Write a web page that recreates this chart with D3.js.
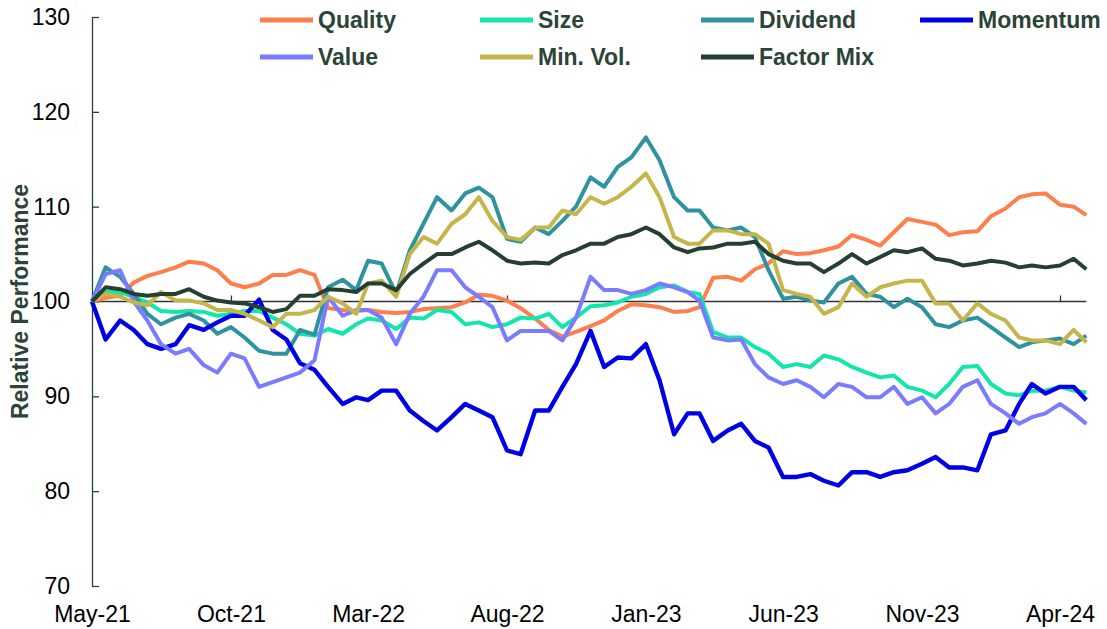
<!DOCTYPE html>
<html>
<head>
<meta charset="utf-8">
<script src="https://cdn.jsdelivr.net/npm/d3@7"></script>
<style>
  body { margin: 0; background: #fff; }
  svg text { font-family: Arial, "Liberation Sans", sans-serif; }
</style>
</head>
<body>
<div id="chartDiv"></div>
<script>
// semi-monthly readings, 1 May 2021 .. 30 Apr 2024
const seriesNames = ['Quality', 'Size', 'Dividend', 'Momentum', 'Value', 'Min. Vol.', 'Factor Mix'];
const seriesColors = ['#ff7f4c', '#13e6ad', '#2e939f', '#0000e6', '#7b7bff', '#c4b64b', '#253f31'];

const quality = [100.0, 100.4, 100.6, 102.0, 102.7, 103.1, 103.6, 104.2, 104.0, 103.3, 101.9, 101.5, 101.9, 102.8, 102.8, 103.3, 102.8, 99.3, 99.1, 99.0,
  99.1, 98.9, 98.8, 98.9, 99.2, 99.3, 99.4, 99.9, 100.7, 100.6, 100.1, 99.3, 98.2, 97.0, 96.3, 96.8, 97.4, 98.0, 99.0, 99.7,
  99.6, 99.4, 98.9, 99.0, 99.4, 102.5, 102.6, 102.2, 103.4, 104.0, 105.3, 105.0, 105.1, 105.4, 105.8, 107.0, 106.5, 105.9, 107.3, 108.7,
  108.4, 108.1, 107.0, 107.3, 107.4, 109.0, 109.8, 111.0, 111.3, 111.4, 110.2, 110.0, 109.1];
const size = [100.0, 101.0, 101.0, 100.5, 99.9, 99.0, 98.9, 99.0, 98.9, 98.5, 98.7, 99.0, 99.0, 98.3, 97.6, 96.6, 96.4, 97.1, 96.6, 97.6,
  98.2, 98.0, 97.1, 98.3, 98.2, 99.1, 98.9, 97.6, 97.8, 97.3, 97.6, 98.3, 98.2, 98.7, 97.3, 98.3, 99.5, 99.6, 99.9, 100.5,
  100.8, 101.5, 101.7, 101.0, 100.8, 96.8, 96.2, 96.2, 95.2, 94.5, 93.1, 93.4, 93.1, 94.3, 93.9, 93.1, 92.5, 92.0, 92.2, 91.0,
  90.6, 89.9, 91.3, 93.1, 93.2, 91.3, 90.3, 90.1, 90.6, 90.6, 91.0, 90.6, 90.4];
const dividend = [100.0, 103.6, 102.6, 100.8, 98.7, 97.6, 98.3, 98.7, 98.0, 96.6, 97.3, 96.2, 94.8, 94.5, 94.5, 97.0, 96.5, 101.5, 102.3, 101.2,
  104.3, 104.0, 100.8, 105.4, 108.2, 111.0, 109.6, 111.4, 112.0, 111.0, 106.6, 106.3, 107.8, 107.1, 108.5, 110.0, 113.1, 112.1, 114.2, 115.2,
  117.3, 114.9, 111.0, 109.6, 109.6, 107.8, 107.5, 107.8, 106.8, 103.3, 100.3, 100.5, 100.1, 99.9, 101.9, 102.6, 100.8, 100.5, 99.4, 100.3,
  99.4, 97.6, 97.3, 98.0, 98.3, 97.3, 96.2, 95.2, 95.7, 95.9, 96.1, 95.5, 96.4];
const momentum = [100.0, 96.0, 98.0, 97.0, 95.5, 95.0, 95.5, 97.5, 97.0, 97.8, 98.5, 98.5, 100.2, 97.0, 96.0, 93.5, 92.8, 91.0, 89.2, 89.9,
  89.6, 90.6, 90.6, 88.5, 87.4, 86.4, 87.8, 89.2, 88.5, 87.8, 84.3, 83.9, 88.5, 88.5, 91.0, 93.4, 96.9, 93.1, 94.1, 94.0,
  95.5, 91.7, 86.0, 88.2, 88.2, 85.3, 86.4, 87.1, 85.3, 84.6, 81.5, 81.5, 81.8, 81.1, 80.6, 82.0, 82.0, 81.5, 82.0, 82.2,
  82.9, 83.6, 82.5, 82.5, 82.2, 86.0, 86.4, 89.2, 91.3, 90.3, 91.0, 91.0, 89.6];
const value = [100.0, 102.9, 103.3, 100.0, 98.0, 95.5, 94.5, 95.0, 93.3, 92.5, 94.5, 94.0, 91.0, 91.5, 92.0, 92.5, 93.8, 100.5, 98.5, 99.1,
  99.1, 98.3, 95.5, 98.7, 100.5, 103.3, 103.3, 101.5, 100.5, 99.4, 95.9, 96.9, 96.9, 96.9, 95.9, 98.3, 102.6, 101.2, 101.2, 100.8,
  101.2, 101.9, 101.5, 101.0, 100.1, 96.2, 95.9, 96.0, 93.4, 92.0, 91.3, 91.7, 91.0, 89.9, 91.3, 91.0, 89.9, 89.9, 91.0, 89.2,
  89.9, 88.2, 89.2, 91.0, 91.7, 89.2, 88.2, 87.1, 87.8, 88.2, 89.2, 88.2, 87.1];
const minVol = [100.0, 100.8, 100.5, 99.9, 99.6, 101.0, 100.1, 100.1, 99.8, 99.1, 99.1, 98.7, 98.0, 97.3, 98.7, 98.7, 99.1, 100.5, 99.8, 98.7,
  101.9, 102.2, 100.5, 105.0, 106.8, 106.1, 108.2, 109.2, 111.0, 108.5, 106.8, 106.5, 107.8, 107.8, 109.6, 109.2, 111.0, 110.3, 111.0, 112.1,
  113.5, 111.0, 106.8, 106.1, 106.1, 107.5, 107.5, 107.1, 107.1, 106.1, 101.2, 100.8, 100.5, 98.7, 99.4, 101.9, 100.5, 101.5, 101.9, 102.2,
  102.2, 99.8, 99.8, 98.0, 99.8, 98.7, 98.0, 96.2, 95.9, 95.9, 95.5, 97.0, 95.7];
const factorMix = [100.0, 101.5, 101.3, 100.8, 100.6, 100.8, 100.8, 101.3, 100.5, 100.1, 99.9, 99.8, 99.4, 98.9, 99.2, 100.6, 100.6, 101.3, 101.2, 101.0,
  101.9, 101.9, 101.2, 102.9, 104.0, 105.0, 105.0, 105.7, 106.3, 105.4, 104.3, 104.0, 104.1, 104.0, 104.9, 105.4, 106.1, 106.1, 106.8, 107.1,
  107.8, 107.1, 105.7, 105.2, 105.6, 105.7, 106.1, 106.1, 106.3, 105.0, 104.3, 104.0, 104.0, 103.1, 104.0, 105.0, 104.0, 104.7, 105.4, 105.2,
  105.6, 104.5, 104.3, 103.8, 104.0, 104.3, 104.1, 103.6, 103.8, 103.6, 103.8, 104.5, 103.4];

const labelDates = ['2021-05-01', '2021-10-01', '2022-03-01', '2022-08-01', '2023-01-01', '2023-06-01', '2023-11-01', '2024-04-01'];
const markDates = ['2021-10-01', '2022-08-01', '2023-06-01', '2024-04-01'];
const yTicks = [70, 80, 90, 100, 110, 120, 130];

class FactorChart {
  constructor() {
    this.svgWidth = 1107;
    this.svgHeight = 629;
    this.parse = d3.timeParse('%Y-%m-%d');
    this.dates = quality.map((d, i) => i === quality.length - 1
      ? new Date(2024, 3, 30)
      : new Date(2021, 4 + Math.floor(i / 2), i % 2 ? 16 : 1));
    this.series = [quality, size, dividend, momentum, value, minVol, factorMix];

    this.xScale = d3.scaleTime()
      .domain([new Date(2021, 4, 1), new Date(2024, 3, 1)])
      .range([92, 1060]);
    this.yScale = d3.scaleLinear()
      .domain([70, 130])
      .range([586, 17]);
    this.axisColor = '#2c4437';
  }

  /**
   * Builds the svg and all the parts.
   */
  createView() {
    this.svg = d3.select('#chartDiv').append('svg')
      .attr('width', this.svgWidth)
      .attr('height', this.svgHeight);

    this.createAxes();
    this.createLines();
    this.createLegend();
  }

  createAxes() {
    let yAxis = d3.axisLeft(this.yScale)
      .tickValues(yTicks)
      .tickSizeInner(-7)
      .tickSizeOuter(0)
      .tickPadding(22);

    let yGroup = this.svg.append('g')
      .attr('transform', `translate(${this.xScale.range()[0]},0)`)
      .call(yAxis);
    yGroup.select('.domain').attr('stroke', this.axisColor).attr('stroke-width', 1.3);
    yGroup.selectAll('.tick line').attr('stroke', this.axisColor).attr('stroke-width', 1.3);
    yGroup.selectAll('.tick text')
      .attr('fill', '#000')
      .style('font-size', '23px');

    // date labels sit at the bottom, no line there
    let xLabels = d3.axisBottom(this.xScale)
      .tickValues(labelDates.map(this.parse))
      .tickFormat(d3.timeFormat('%b-%y'))
      .tickSize(0)
      .tickPadding(20);

    let xGroup = this.svg.append('g')
      .attr('transform', `translate(0,${this.yScale(70)})`)
      .call(xLabels);
    xGroup.select('.domain').remove();
    xGroup.selectAll('.tick text')
      .attr('fill', '#000')
      .style('font-size', '23px');

    // the category axis crosses at 100
    let y100 = this.yScale(100);
    let lastDate = this.dates[this.dates.length - 1];
    this.svg.append('line')
      .attr('x1', this.xScale.range()[0])
      .attr('x2', this.xScale(lastDate))
      .attr('y1', y100)
      .attr('y2', y100)
      .attr('stroke', '#333')
      .attr('stroke-width', 1.3);

    let marks = d3.axisTop(this.xScale)
      .tickValues(markDates.map(this.parse))
      .tickFormat('')
      .tickSizeInner(6)
      .tickSizeOuter(0);
    let markGroup = this.svg.append('g')
      .attr('transform', `translate(0,${y100})`)
      .call(marks);
    markGroup.select('.domain').remove();
    markGroup.selectAll('.tick line').attr('stroke', '#333').attr('stroke-width', 1.3);

    this.svg.append('text')
      .attr('transform', `translate(28,${this.yScale(100)}) rotate(-90)`)
      .attr('text-anchor', 'middle')
      .attr('fill', this.axisColor)
      .style('font-size', '23px')
      .style('font-weight', 'bold')
      .text('Relative Performance');
  }

  createLines() {
    let line = d3.line()
      .x((d, i) => this.xScale(this.dates[i]))
      .y(d => this.yScale(d));

    this.svg.append('g')
      .selectAll('path')
      .data(this.series)
      .join('path')
      .attr('d', d => line(d))
      .attr('fill', 'none')
      .attr('stroke', (d, i) => seriesColors[i])
      .attr('stroke-width', (d, i) => seriesNames[i] === 'Momentum' ? 4.4 : 4)
      .attr('stroke-linejoin', 'round');
  }

  createLegend() {
    let colX = [260, 480, 701, 920];
    let rowY = [20, 57];

    let items = this.svg.append('g')
      .selectAll('g')
      .data(seriesNames)
      .join('g')
      .attr('transform', (d, i) => `translate(${colX[i % 4]},${rowY[Math.floor(i / 4)]})`);

    items.append('line')
      .attr('x1', 0)
      .attr('x2', 53)
      .attr('stroke', (d, i) => seriesColors[i])
      .attr('stroke-width', 5);

    items.append('text')
      .attr('x', 58)
      .attr('dy', '0.36em')
      .attr('fill', this.axisColor)
      .style('font-size', '23px')
      .style('font-weight', 'bold')
      .text(d => d);
  }
}

let chart = new FactorChart();
chart.createView();
</script>
</body>
</html>
